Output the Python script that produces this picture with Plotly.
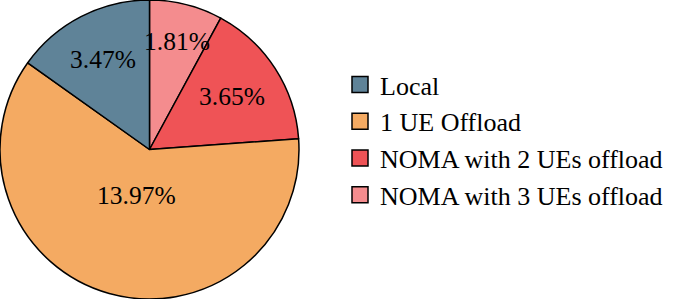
import math
import plotly.graph_objects as go

labels = ["Local", "1 UE Offload", "NOMA with 2 UEs offload", "NOMA with 3 UEs offload"]
values = [3.47, 13.97, 3.65, 1.81]
colors = ["#5f8398", "#f4aa62", "#ef5356", "#f48c8e"]
label_radius = [0.68, 0.32, 0.66, 0.75]  # radial position of % labels (fraction of radius)

W, H = 685, 299
dom_x = [0, 299 / W]
R_PX = 149

fig = go.Figure()
# slices run counterclockwise from 12 o'clock: draw clockwise with reversed order
fig.add_trace(go.Pie(
    labels=labels[::-1],
    values=values[::-1],
    textinfo="none",
    sort=False,
    direction="clockwise",
    rotation=0,
    marker=dict(colors=colors[::-1], line=dict(color="black", width=1.5)),
    domain=dict(x=dom_x, y=[0, 1]),
    hoverinfo="skip",
    showlegend=False,
))

# legend entries
for lab, col in zip(labels, colors):
    fig.add_trace(go.Scatter(
        x=[None], y=[None], mode="markers", name=lab,
        marker=dict(symbol="square", size=16, color=col, line=dict(color="black", width=1.5)),
    ))

# percentage labels, placed from cumulative angles (counterclockwise from 12 o'clock)
total = sum(values)
cum = 0.0
cx = (dom_x[0] + dom_x[1]) / 2
for v, fr in zip(values, label_radius):
    mid = (cum + v / 2) / total * 2 * math.pi
    cum += v
    dx = -math.sin(mid) * fr * R_PX
    dy = math.cos(mid) * fr * R_PX
    fig.add_annotation(
        x=cx + dx / W, y=0.5 + dy / H, xref="paper", yref="paper",
        text=f"{v:.2f}%", showarrow=False,
        font=dict(family="Liberation Serif", size=25.5, color="black"),
        xanchor="center", yanchor="middle",
    )

fig.update_layout(
    width=W, height=H,
    margin=dict(l=0, r=0, t=0, b=0),
    paper_bgcolor="white",
    plot_bgcolor="white",
    xaxis=dict(visible=False, domain=[0.99, 1]),
    yaxis=dict(visible=False),
    font=dict(family="Liberation Serif", size=26, color="black"),
    legend=dict(x=340 / W, xanchor="left", y=1 - 140 / H, yanchor="middle",
                font=dict(family="Liberation Serif", size=26, color="black"),
                bgcolor="rgba(0,0,0,0)", itemsizing="trace"),
    showlegend=True,
)

fig.write_html("out.html", config={"displayModeBar": False},
               post_script="document.body.style.margin='0';")
